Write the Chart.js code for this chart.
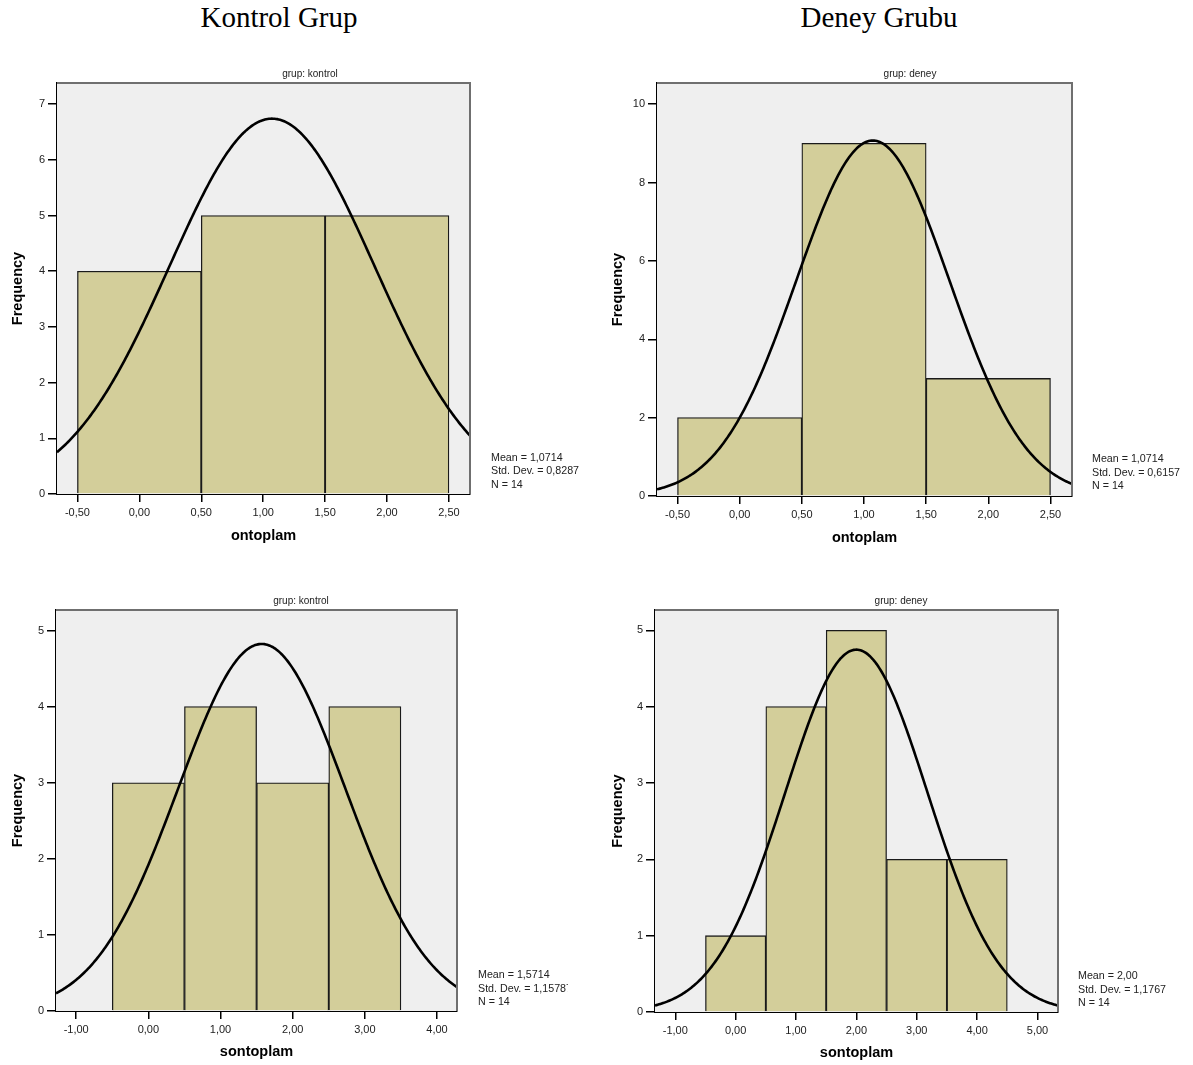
<!DOCTYPE html>
<html>
<head>
<meta charset="utf-8">
<script src="https://cdn.jsdelivr.net/npm/chart.js@4.4.1/dist/chart.umd.min.js"></script>
<style>
  html, body { margin: 0; padding: 0; background: #ffffff; }
  body { width: 1193px; height: 1065px; position: relative; overflow: hidden; }
  canvas { position: absolute; }
  .pageTitle { position: absolute; width: 400px; text-align: center; font-family: "Liberation Serif", "DejaVu Serif", serif; font-size: 29px; line-height: 29px; color: #000; white-space: nowrap; }
</style>
</head>
<body>
<div class="pageTitle" style="left:79px; top:3px;">Kontrol Grup</div>
<div class="pageTitle" style="left:679px; top:3px;">Deney Grubu</div>
<canvas id="c1"></canvas>
<canvas id="c2"></canvas>
<canvas id="c3"></canvas>
<canvas id="c4"></canvas>
<script>
// ---------------- data ----------------
const subtitles = ['grup: kontrol', 'grup: deney', 'grup: kontrol', 'grup: deney'];
const xTitles = ['ontoplam', 'ontoplam', 'sontoplam', 'sontoplam'];

const kontrolOnCenters = [0, 1, 2];
const kontrolOnCounts = [4, 5, 5];
const deneyOnCenters = [0, 1, 2];
const deneyOnCounts = [2, 9, 3];
const kontrolSonCenters = [0, 1, 2, 3];
const kontrolSonCounts = [3, 4, 3, 4];
const deneySonCenters = [0, 1, 2, 3, 4];
const deneySonCounts = [1, 4, 5, 2, 2];

const means = [1.0714, 1.0714, 1.5714, 2.00];
const stdDevs = [0.8287, 0.6157, 1.15787, 1.1767];
const ns = [14, 14, 14, 14];
const meanLabels = ['1,0714', '1,0714', '1,5714', '2,00'];
const sdLabels = ['0,8287', '0,6157', '1,15787', '1,1767'];

const xTicksOn = [-0.5, 0, 0.5, 1, 1.5, 2, 2.5];
const xTicksSonKontrol = [-1, 0, 1, 2, 3, 4];
const xTicksSonDeney = [-1, 0, 1, 2, 3, 4, 5];
const yTicksKontrolOn = [0, 1, 2, 3, 4, 5, 6, 7];
const yTicksDeneyOn = [0, 2, 4, 6, 8, 10];
const yTicksKontrolSon = [0, 1, 2, 3, 4, 5];
const yTicksDeneySon = [0, 1, 2, 3, 4, 5];

// ---------------- layout (positions / sizes only) ----------------
const panels = [
  { id: 'c1', left: 0,   top: 60,  w: 582, h: 500, padTop: 23, padRight: 112, yW: 57, xH: 66,
    xMin: -0.665, xMax: 2.67, yMax: 7.38, yTitlePad: 9.6, xTitlePad: 15,
    subX: 310, subY: 14, statX: 491, statY: [398, 411.5, 425] },
  { id: 'c2', left: 600, top: 60,  w: 593, h: 500, padTop: 23, padRight: 121, yW: 57, xH: 64,
    xMin: -0.665, xMax: 2.673, yMax: 10.54, yTitlePad: 9.6, xTitlePad: 13,
    subX: 310, subY: 14, statX: 492, statY: [399, 413, 426.5] },
  { id: 'c3', left: 0,   top: 585, w: 568, h: 480, padTop: 25, padRight: 111, yW: 56, xH: 54,
    xMin: -1.28, xMax: 4.277, yMax: 5.27, yTitlePad: 9.6, xTitlePad: 4,
    subX: 301, subY: 16, statX: 478, statY: [390.5, 404, 417.5] },
  { id: 'c4', left: 600, top: 585, w: 593, h: 480, padTop: 25, padRight: 135, yW: 55, xH: 53,
    xMin: -1.336, xMax: 5.34, yMax: 5.266, yTitlePad: 9.6, xTitlePad: 3,
    subX: 301, subY: 16, statX: 478, statY: [391.5, 405, 418] }
];

const centersList = [kontrolOnCenters, deneyOnCenters, kontrolSonCenters, deneySonCenters];
const countsList = [kontrolOnCounts, deneyOnCounts, kontrolSonCounts, deneySonCounts];
const xTicksList = [xTicksOn, xTicksOn, xTicksSonKontrol, xTicksSonDeney];
const yTicksList = [yTicksKontrolOn, yTicksDeneyOn, yTicksKontrolSon, yTicksDeneySon];

// fitted normal curve, drawn from the displayed Mean / Std. Dev. / N
function normalCurve(mean, sd, n, binWidth, xMin, xMax) {
  const pts = [];
  const steps = 300;
  for (let i = 0; i <= steps; i++) {
    const x = xMin + (xMax - xMin) * i / steps;
    const z = (x - mean) / sd;
    pts.push({ x: x, y: n * binWidth / (sd * Math.sqrt(2 * Math.PI)) * Math.exp(-0.5 * z * z) });
  }
  return pts;
}

const fmtComma = v => v.toFixed(2).replace('.', ',');
const TICK_FONT = { family: 'Liberation Sans, Arial, sans-serif', size: 11 };
const TITLE_FONT = { family: 'Liberation Sans, Arial, sans-serif', size: 14.5, weight: 'bold' };

panels.forEach((p, k) => {
  const cv = document.getElementById(p.id);
  cv.width = p.w; cv.height = p.h;
  cv.style.left = p.left + 'px'; cv.style.top = p.top + 'px';
  cv.style.width = p.w + 'px'; cv.style.height = p.h + 'px';

  const barData = centersList[k].map((c, i) => ({ x: c, y: countsList[k][i] }));
  const curve = normalCurve(means[k], stdDevs[k], ns[k], 1, p.xMin, p.xMax);

  const panelPlugin = {
    id: 'panelDeco' + k,
    beforeDatasetsDraw(chart) {
      const { ctx, chartArea: a } = chart;
      ctx.save();
      ctx.fillStyle = '#efefef';
      ctx.fillRect(a.left, a.top, a.right - a.left, a.bottom - a.top);
      ctx.restore();
    },
    afterDraw(chart) {
      const { ctx, chartArea: a } = chart;
      ctx.save();
      ctx.strokeStyle = '#6f6f6f';
      ctx.lineWidth = 2;
      ctx.beginPath();
      ctx.moveTo(a.left, a.top);
      ctx.lineTo(a.right, a.top);
      ctx.lineTo(a.right, a.bottom);
      ctx.stroke();
      ctx.fillStyle = '#222';
      ctx.font = '10px "Liberation Sans", Arial, sans-serif';
      ctx.textAlign = 'center';
      ctx.textBaseline = 'middle';
      ctx.fillText(subtitles[k], p.subX, p.subY);
      ctx.font = '10.7px "Liberation Sans", Arial, sans-serif';
      ctx.textAlign = 'left';
      ctx.fillText('Mean = ' + meanLabels[k], p.statX, p.statY[0]);
      ctx.fillText('Std. Dev. = ' + sdLabels[k], p.statX, p.statY[1]);
      ctx.fillText('N = ' + ns[k], p.statX, p.statY[2]);
      ctx.restore();
    }
  };

  new Chart(cv, {
    type: 'bar',
    data: {
      datasets: [
        {
          type: 'line',
          data: curve,
          borderColor: '#000',
          borderWidth: 2.6,
          pointRadius: 0,
          tension: 0,
          fill: false,
          order: 0
        },
        {
          type: 'bar',
          data: barData,
          backgroundColor: '#d3ce9a',
          borderColor: '#1a1a1a',
          borderWidth: 1.3,
          barThickness: 'flex',
          barPercentage: 1,
          categoryPercentage: 1,
          order: 1
        }
      ]
    },
    options: {
      responsive: false,
      animation: false,
      devicePixelRatio: window.devicePixelRatio || 1,
      layout: { padding: { left: 0, top: p.padTop, right: p.padRight, bottom: 0 } },
      plugins: { legend: { display: false }, tooltip: { enabled: false }, title: { display: false } },
      scales: {
        x: {
          type: 'linear',
          min: p.xMin, max: p.xMax,
          offset: false,
          afterBuildTicks: s => { s.ticks = xTicksList[k].map(v => ({ value: v })); },
          afterFit: s => { s.height = p.xH; },
          ticks: { font: TICK_FONT, color: '#222', padding: 4, autoSkip: false, maxRotation: 0,
                   callback: v => fmtComma(v) },
          grid: { drawOnChartArea: false, drawTicks: true, tickLength: 8, color: '#000', lineWidth: 1.5, offset: false },
          border: { display: true, color: '#000', width: 2 },
          title: { display: true, text: xTitles[k], font: TITLE_FONT, color: '#000',
                   padding: { top: 0, bottom: p.xTitlePad } }
        },
        y: {
          type: 'linear',
          min: 0, max: p.yMax,
          afterBuildTicks: s => { s.ticks = yTicksList[k].map(v => ({ value: v })); },
          afterFit: s => { s.width = p.yW; },
          ticks: { font: TICK_FONT, color: '#222', padding: 3, callback: v => String(v) },
          grid: { drawOnChartArea: false, drawTicks: true, tickLength: 9, color: '#000', lineWidth: 1.5 },
          border: { display: true, color: '#000', width: 2 },
          title: { display: true, text: 'Frequency', font: TITLE_FONT, color: '#000',
                   padding: { top: p.yTitlePad, bottom: 0 } }
        }
      }
    },
    plugins: [panelPlugin]
  });
});
</script>
</body>
</html>
